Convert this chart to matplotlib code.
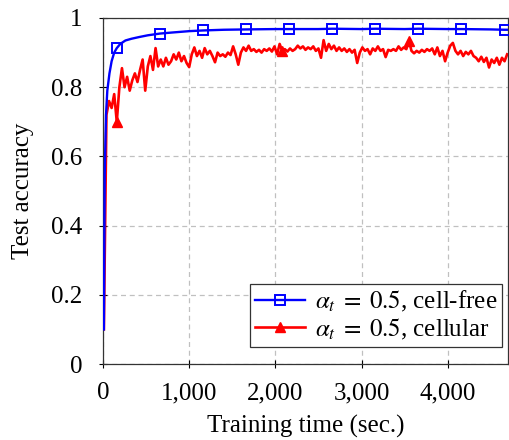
import numpy as np
import matplotlib
matplotlib.use('Agg')
import matplotlib.pyplot as plt
from matplotlib.ticker import FuncFormatter

plt.rcParams['font.family'] = ['Liberation Serif', 'DejaVu Serif']
plt.rcParams['mathtext.fontset'] = 'stix'

# cell-free: smooth curve, squares every 500 s from t=160
t_free = [10, 20, 35, 50, 75, 100, 130, 160, 200, 260, 330, 420, 520, 660, 800,
          1000, 1160, 1400, 1660, 2000, 2160, 2500, 2660, 3000, 3160, 3500, 3660,
          4000, 4160, 4500, 4660, 4700]
acc_free = [0.10, 0.55, 0.72, 0.79, 0.84, 0.875, 0.90, 0.913, 0.925, 0.935, 0.94,
            0.945, 0.95, 0.955, 0.958, 0.962, 0.964, 0.966, 0.967, 0.968, 0.968,
            0.968, 0.969, 0.968, 0.969, 0.968, 0.969, 0.968, 0.968, 0.967, 0.966,
            0.966]
free_marks = [7, 13, 16, 18, 20, 22, 24, 26, 28, 30]

# cellular: noisy curve sampled every 30 s from t=10
t_cell = np.arange(10, 4700, 30)
acc_cell = [
    0.10, 0.72, 0.76, 0.74, 0.78, 0.70, 0.80, 0.855, 0.80, 0.83,
    0.79, 0.82, 0.84, 0.815, 0.85, 0.88, 0.79, 0.86, 0.89, 0.85,
    0.913, 0.86, 0.88, 0.86, 0.885, 0.865, 0.875, 0.895, 0.88, 0.90,
    0.875, 0.89, 0.87, 0.858, 0.895, 0.915, 0.89, 0.905, 0.885, 0.913,
    0.895, 0.905, 0.89, 0.872, 0.90, 0.89, 0.895, 0.888, 0.90, 0.893,
    0.918, 0.895, 0.865, 0.90, 0.915, 0.905, 0.92, 0.905, 0.91, 0.902,
    0.908, 0.90, 0.91, 0.905, 0.912, 0.903, 0.918, 0.895, 0.925, 0.905,
    0.91, 0.903, 0.912, 0.905, 0.91, 0.92, 0.912, 0.918, 0.908, 0.915,
    0.91, 0.918, 0.905, 0.912, 0.885, 0.936, 0.905, 0.925, 0.91, 0.92,
    0.905, 0.915, 0.905, 0.912, 0.902, 0.91, 0.90, 0.908, 0.87, 0.90,
    0.915, 0.905, 0.91, 0.895, 0.912, 0.905, 0.918, 0.905, 0.91, 0.887,
    0.908, 0.905, 0.91, 0.905, 0.918, 0.908, 0.915, 0.91, 0.934, 0.905,
    0.898, 0.905, 0.90, 0.908, 0.902, 0.91, 0.905, 0.912, 0.895, 0.915,
    0.89, 0.905, 0.875, 0.90, 0.92, 0.928, 0.905, 0.895, 0.905, 0.89,
    0.902, 0.895, 0.905, 0.89, 0.885, 0.875, 0.888, 0.873, 0.885, 0.857,
    0.88, 0.87, 0.885, 0.865, 0.885, 0.875, 0.895,
]
cell_marks = [5, 69, 118]

fig = plt.figure(figsize=(5.09, 4.40), dpi=100)
ax = fig.add_axes([103 / 509, 1 - 364 / 440, 405 / 509, 346 / 440])

ax.plot(t_free, acc_free, color='#0000ff', lw=1.7, marker='s', markersize=6.5,
        markerfacecolor='none', markeredgewidth=1.4, markevery=free_marks,
        label=r'$\alpha_t\;=\;0.5$, cell-free', zorder=3)
ax.plot(t_cell, acc_cell, color='#ff0000', lw=1.9, marker='^', markersize=7.5,
        markevery=cell_marks, label=r'$\alpha_t\;=\;0.5$, cellular', zorder=2)

ax.set_xlim(0, 4700)
ax.set_ylim(0, 1)
ax.set_xticks([0, 1000, 2000, 3000, 4000])
ax.set_yticks([0, 0.2, 0.4, 0.6, 0.8, 1])
ax.xaxis.set_major_formatter(FuncFormatter(lambda v, p: f'{int(v):,}'))
ax.yaxis.set_major_formatter(FuncFormatter(lambda v, p: '0' if v == 0 else ('1' if v == 1 else f'{v:.1f}')))
ax.tick_params(direction='inout', length=6, width=0.8, labelsize=18)
ax.tick_params(axis='x', pad=10)
ax.tick_params(axis='y', pad=12)
ax.grid(True, color='#c0c0c0', linestyle=(0, (4, 3)), linewidth=0.9)
for s in ax.spines.values():
    s.set_color('#333333')
    s.set_linewidth(0.9)

ax.set_xlabel('Training time (sec.)', fontsize=18, labelpad=8)
ax.set_ylabel('Test accuracy', fontsize=18, labelpad=12)

leg = ax.legend(loc='lower right', bbox_to_anchor=(0.985, 0.05), fontsize=18,
                fancybox=False, framealpha=1, edgecolor='#333333',
                handlelength=2.0, handletextpad=0.4, borderpad=0.2,
                labelspacing=0.1, borderaxespad=0)
leg.get_frame().set_linewidth(0.9)

plt.savefig('out.png', dpi=100)
